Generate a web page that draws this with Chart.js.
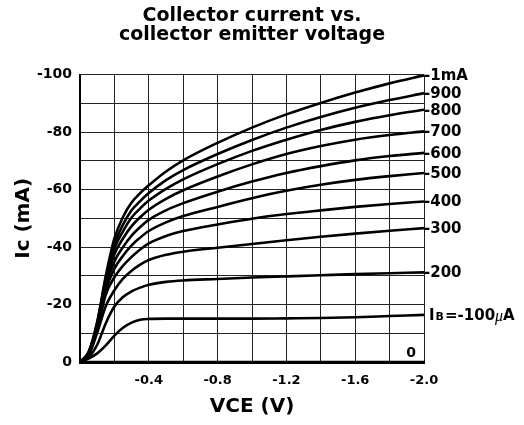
<!DOCTYPE html>
<html><head><meta charset="utf-8">
<script src="https://cdn.jsdelivr.net/npm/chart.js@4"></script>
<style>html,body{margin:0;padding:0;background:#fff;}</style>
</head><body>
<canvas id="c" width="524" height="425"></canvas>
<script>
// ---- data ----
const titleLines = ['Collector current vs.', 'collector emitter voltage'];
const xTitle = 'VCE (V)';
const yTitle = 'Ic (mA)';
const vce    = [0, -0.05, -0.1, -0.15, -0.2, -0.25, -0.3, -0.35, -0.4, -0.5, -0.6, -0.8, -1.0, -1.2, -1.4, -1.6, -1.8, -2.0];
const ic1000 = [0, -3.5, -14, -30, -43, -50.5, -55.5, -58.8, -61.5, -66.3, -70.2, -76.3, -81.6, -86.2, -90.2, -93.8, -97, -99.8];
const ic900  = [0, -3.4, -13.6, -29.2, -41, -47.8, -52.8, -56, -58.8, -63.3, -66.8, -72.4, -77.3, -81.6, -85.3, -88.5, -91.2, -93.6];
const ic800  = [0, -3.3, -13.2, -28.3, -39.5, -45.5, -50.3, -53.5, -56.2, -60.3, -63.6, -68.9, -73.5, -77.4, -80.8, -83.6, -85.9, -87.8];
const ic700  = [0, -3.2, -12.8, -27.3, -37.5, -43, -47.3, -50.4, -53, -56.8, -59.8, -64.6, -68.8, -72.4, -75.2, -77.4, -79, -80.3];
const ic600  = [0, -3, -12.3, -26.2, -35, -40, -44, -47, -49.5, -52.8, -55.3, -59.3, -62.8, -65.8, -68.2, -70.2, -71.7, -72.8];
const ic500  = [0, -2.8, -11.8, -25, -32.5, -37, -40.6, -43.3, -45.6, -48.6, -50.8, -54, -57, -59.6, -61.7, -63.4, -64.7, -65.8];
const ic400  = [0, -2.6, -11.2, -23.5, -29.5, -33.5, -36.6, -39.2, -41.3, -43.9, -45.6, -47.9, -49.9, -51.5, -52.8, -54, -55, -55.9];
const ic300  = [0, -2.3, -10.2, -19.5, -25, -29, -31.8, -33.9, -35.5, -37.3, -38.4, -39.8, -41.1, -42.4, -43.6, -44.7, -45.7, -46.6];
const ic200  = [0, -1.6, -6, -13.5, -19.3, -22.6, -24.6, -25.9, -26.9, -27.9, -28.4, -28.9, -29.4, -29.8, -30.2, -30.6, -30.9, -31.2];
const ic100  = [0, -1.2, -3, -5.8, -9.2, -11.9, -13.7, -14.7, -15, -15.1, -15.1, -15.1, -15.1, -15.2, -15.3, -15.6, -16, -16.4];
const ic0    = [0, 0, 0, 0, 0, 0, 0, 0, 0, 0, 0, 0, 0, 0, 0, 0, 0, 0];
const seriesValues = [ic1000, ic900, ic800, ic700, ic600, ic500, ic400, ic300, ic200, ic100, ic0];
const seriesLabels = ['-1mA', '-900', '-800', '-700', '-600', '-500', '-400', '-300', '-200', 'IB=-100μA', '0'];
const xTickLabels = [-0.4, -0.8, -1.2, -1.6, -2.0];
const yTickLabels = [0, -20, -40, -60, -80, -100];

// ---- chart ----
const FONT = 'DejaVu Sans';
const datasets = seriesValues.map((vals, i) => ({
  label: seriesLabels[i],
  data: vals.map((v, j) => ({x: vce[j], y: v})),
  borderColor: '#000',
  borderWidth: 2.6,
  pointRadius: 0,
  fill: false,
  cubicInterpolationMode: 'monotone'
}));

const labelPlugin = {
  id: 'seriesLabels',
  afterDatasetsDraw(chart) {
    const {ctx, chartArea, scales} = chart;
    const y = scales.y;
    ctx.save();
    ctx.fillStyle = '#000';
    ctx.textBaseline = 'middle';
    chart.data.datasets.forEach((ds, i) => {
      const text = seriesLabels[i];
      const last = ds.data[ds.data.length - 1].y;
      const py = y.getPixelForValue(last) + 1;
      if (text === '0') {
        ctx.font = 'bold 14px ' + FONT;
        ctx.textAlign = 'right';
        ctx.fillText(text, chartArea.right - 8, chartArea.bottom - 9);
        return;
      }
      ctx.textAlign = 'left';
      if (text.startsWith('IB')) {
        let x = chartArea.right + 5;
        const big = 'bold 15px ' + FONT;
        const small = 'bold 11px ' + FONT;
        ctx.font = big; ctx.fillText('I', x, py); x += ctx.measureText('I').width + 1;
        ctx.font = small; ctx.fillText('B', x, py + 1); x += ctx.measureText('B').width + 1;
        const rest = text.slice(2, text.indexOf('μ'));
        ctx.font = big; ctx.fillText(rest, x, py); x += ctx.measureText(rest).width;
        ctx.font = 'italic 16px "Liberation Serif"'; ctx.fillText('μ', x, py + 1); x += ctx.measureText('μ').width;
        ctx.font = big; ctx.fillText('A', x, py);
        return;
      }
      ctx.font = 'bold 15px ' + FONT;
      ctx.fillText(text, chartArea.right, py);
    });
    ctx.restore();
  }
};

new Chart(document.getElementById('c'), {
  type: 'line',
  data: {datasets},
  plugins: [labelPlugin],
  options: {
    responsive: false,
    animation: false,
    layout: {padding: {left: 0, right: 100, top: 0, bottom: 0}},
    plugins: {
      legend: {display: false},
      tooltip: {enabled: false},
      title: {
        display: true,
        fullSize: false,
        text: titleLines,
        color: '#000',
        font: {family: FONT, weight: 'bold', size: 19, lineHeight: 1.02},
        padding: {top: 6, bottom: 30}
      }
    },
    scales: {
      x: {
        type: 'linear', min: -2, max: 0, reverse: true,
        afterFit(s) { s.height = 63; },
        ticks: {
          stepSize: 0.2, autoSkip: false, maxRotation: 0, padding: 11, color: '#000',
          font: {family: FONT, weight: 'bold', size: 13},
          callback: (v) => { const r = Math.round(v * 10) / 10; return xTickLabels.includes(r) ? r.toFixed(1) : ''; }
        },
        grid: {color: '#222', lineWidth: 1, drawTicks: false},
        border: {color: '#000', width: 3},
        title: {display: true, text: xTitle, color: '#000', font: {family: FONT, weight: 'bold', size: 20}, padding: {top: 0, bottom: 6}}
      },
      y: {
        type: 'linear', min: -100, max: 0, reverse: true,
        afterFit(s) { s.width = 80; },
        ticks: {
          stepSize: 10, autoSkip: false, padding: 8, color: '#000',
          font: {family: FONT, weight: 'bold', size: 14},
          callback: (v) => yTickLabels.includes(Math.round(v)) ? String(Math.round(v)) : ''
        },
        grid: {color: '#222', lineWidth: 1, drawTicks: false},
        border: {color: '#000', width: 2},
        title: {display: true, text: yTitle, color: '#000', font: {family: FONT, weight: 'bold', size: 20}, padding: {top: 12, bottom: 0}}
      }
    }
  }
});
</script>
</body></html>
